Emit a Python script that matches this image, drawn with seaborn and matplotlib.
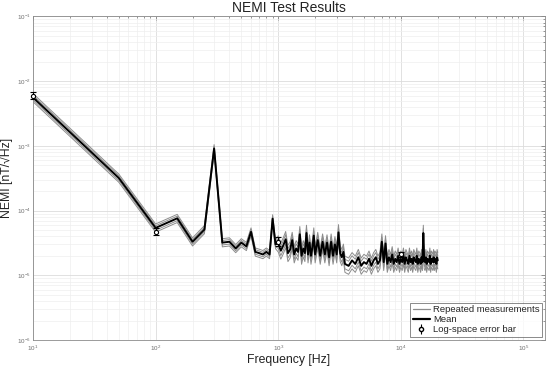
import matplotlib
matplotlib.use("Agg")
import matplotlib.pyplot as plt
import seaborn as sns
import numpy as np
from matplotlib.lines import Line2D
from matplotlib.ticker import LogLocator, NullFormatter

# ---------------- DATA ----------------

# low band, 10 Hz .. 950 Hz
freq_a = [10, 50, 100, 150, 200, 250, 300, 350, 400, 450, 500, 550,
          600, 650, 700, 750, 800, 850, 900, 950]
nemi_a = [5.6e-3, 3.2e-4, 5.4e-5, 7.6e-5, 3.3e-5, 5.1e-5, 9.1e-4, 3.2e-5,
          3.3e-5, 2.6e-5, 3.2e-5, 2.8e-5, 4.7e-5, 2.3e-5, 2.2e-5, 2.1e-5,
          2.3e-5, 2.1e-5, 7.5e-5, 3.0e-5]

# mid band, 1 kHz .. 3.5 kHz
freq_b = [1000, 1050, 1100, 1150, 1200, 1250, 1300, 1350, 1400, 1450,
          1500, 1550, 1600, 1650, 1700, 1750, 1800, 1850, 1900, 1950,
          2000, 2100, 2200, 2300, 2400, 2500, 2600, 2700, 2800, 2900,
          3000, 3100, 3200, 3300, 3400, 3500]
nemi_b = [3.1e-5, 2.4e-5, 2.9e-5, 3.6e-5, 2.2e-5, 2.5e-5, 3.5e-5, 2.1e-5, 2.6e-5, 2.3e-5,
          4.3e-5, 2.0e-5, 2.6e-5, 2.2e-5, 4.5e-5, 2.1e-5, 3.2e-5, 2.0e-5, 2.7e-5, 4.1e-5,
          2.1e-5, 3.5e-5, 2.0e-5, 3.3e-5, 2.1e-5, 3.2e-5, 1.9e-5, 3.3e-5, 2.0e-5, 3.0e-5,
          2.1e-5, 4.6e-5, 2.2e-5, 1.9e-5, 2.3e-5, 1.5e-5]

# high band, 3.75 kHz .. 20 kHz
freq_c = [3750, 4000, 4250, 4500, 4750, 5000, 5250, 5500, 5750, 6000,
          6250, 6500, 6750, 7000, 7250, 7500, 7750, 8000, 8250, 8500,
          8750, 9000, 9250, 9500, 9750, 10000, 10250, 10500, 10750, 11000,
          11250, 11500, 11750, 12000, 12250, 12500, 12750, 13000, 13250, 13500,
          13750, 14000, 14250, 14500, 14750, 15000, 15250, 15500, 15750, 16000,
          16250, 16500, 16750, 17000, 17250, 17500, 17750, 18000, 18250, 18500,
          18750, 19000, 19250, 19500, 19750, 20000]
nemi_c = [1.4e-5, 1.7e-5, 1.5e-5, 1.9e-5, 1.4e-5, 1.6e-5, 1.5e-5, 1.8e-5, 1.4e-5, 1.7e-5,
          1.9e-5, 1.5e-5, 1.7e-5, 3.3e-5, 1.6e-5, 3.1e-5, 1.5e-5, 1.9e-5, 1.6e-5, 2.1e-5,
          1.5e-5, 1.8e-5, 1.6e-5, 2.0e-5, 1.5e-5, 1.8e-5, 1.6e-5, 2.0e-5, 1.5e-5, 1.9e-5,
          1.7e-5, 1.5e-5, 2.0e-5, 1.6e-5, 1.8e-5, 1.5e-5, 1.9e-5, 1.7e-5, 1.6e-5, 2.0e-5,
          1.5e-5, 1.8e-5, 1.7e-5, 1.5e-5, 1.9e-5, 1.6e-5, 4.5e-5, 1.7e-5, 1.6e-5, 1.9e-5,
          1.5e-5, 1.8e-5, 1.7e-5, 1.6e-5, 2.0e-5, 1.5e-5, 1.8e-5, 1.7e-5, 1.6e-5, 1.9e-5,
          1.6e-5, 1.8e-5, 1.7e-5, 1.5e-5, 1.9e-5, 1.7e-5]

# repeated runs relative to the mean (narrow below 1 kHz, wider above)
run_scale_low = [0.86, 0.92, 1.08, 1.15]
run_scale_high = [0.74, 0.84, 1.18, 1.32]

# log-space error bars
err_freq = [10, 100, 1000, 10000]
err_mid = [6.0e-3, 4.7e-5, 3.3e-5, 2.1e-5]
err_lo = [5.3e-3, 4.2e-5, 2.8e-5, 1.95e-5]
err_hi = [6.8e-3, 5.4e-5, 3.9e-5, 2.3e-5]

# ---------------- PLOT ----------------

sns.set_style("white")
plt.rcParams['font.family'] = ['Liberation Sans', 'DejaVu Sans']

fig = plt.figure(figsize=(5.5, 3.66), dpi=100)
ax = fig.add_axes([0.06, 0.071, 0.931, 0.884])

freq = np.array(freq_a + freq_b + freq_c, dtype=float)
mean = np.array(nemi_a + nemi_b + nemi_c)
n_low = len(freq_a)

for s_lo, s_hi in zip(run_scale_low, run_scale_high):
    scale = np.where(np.arange(len(freq)) < n_low, s_lo, s_hi)
    sns.lineplot(x=freq, y=mean * scale, color="#8c8c8c", lw=0.7, ax=ax)

sns.lineplot(x=freq, y=mean, color="black", lw=1.4, ax=ax)

mid = np.array(err_mid)
yerr = [mid - np.array(err_lo), np.array(err_hi) - mid]
eb = ax.errorbar(err_freq, mid, yerr=yerr, fmt="o", ms=3, mfc="white", mec="black",
                 ecolor="black", elinewidth=0.8, capsize=2.5, mew=0.8, zorder=5)
for art in eb.lines[0:1] + tuple(eb.lines[1]) + tuple(eb.lines[2]):
    art.set_clip_on(False)

ax.set_xscale("log")
ax.set_yscale("log")
ax.set_xlim(10, 1.5e5)
ax.set_ylim(1e-6, 1e-1)

ax.xaxis.set_minor_locator(LogLocator(base=10, subs=np.arange(2, 10)))
ax.yaxis.set_minor_locator(LogLocator(base=10, subs=np.arange(2, 10), numticks=20))
ax.yaxis.set_major_locator(LogLocator(base=10, numticks=20))
ax.xaxis.set_minor_formatter(NullFormatter())
ax.yaxis.set_minor_formatter(NullFormatter())

ax.grid(True, which="major", color="#dcdcdc", lw=0.6)
ax.grid(True, which="minor", color="#eeeeee", lw=0.5)
ax.set_axisbelow(True)

for sp in ax.spines.values():
    sp.set_color("#8a8a8a")
    sp.set_linewidth(0.6)
ax.tick_params(which="both", direction="in", top=True, right=True,
               colors="#6e6e6e", labelsize=4.5, width=0.5, pad=1.5)
ax.tick_params(axis="x", pad=2.5)
ax.tick_params(which="major", length=3)
ax.tick_params(which="minor", length=1.5)

ax.set_title("NEMI Test Results", fontsize=10, pad=3, color="#222222")
ax.set_xlabel("Frequency [Hz]", fontsize=8.8, color="#222222")
ax.set_ylabel("NEMI [nT/\u221aHz]", fontsize=8.8, color="#222222")
ax.xaxis.set_label_coords(0.5, -0.044)
ax.yaxis.set_label_coords(-0.04, 0.5)

handles = [
    Line2D([], [], color="#8c8c8c", lw=0.9),
    Line2D([], [], color="black", lw=1.6),
    ax.errorbar([], [], yerr=[], fmt="o", ms=3, mfc="white", mec="black",
                ecolor="black", capsize=2, elinewidth=0.8),
]
labels = ["Repeated measurements", "Mean", "Log-space error bar"]
leg = ax.legend(handles, labels, loc="lower right", fontsize=6.8,
                frameon=True, fancybox=False, borderpad=0.3,
                labelspacing=0.1, handlelength=1.8, handletextpad=0.3,
                borderaxespad=0.3)
leg.get_frame().set_edgecolor("#555555")
leg.get_frame().set_linewidth(0.6)

fig.savefig("out.png", dpi=100)
